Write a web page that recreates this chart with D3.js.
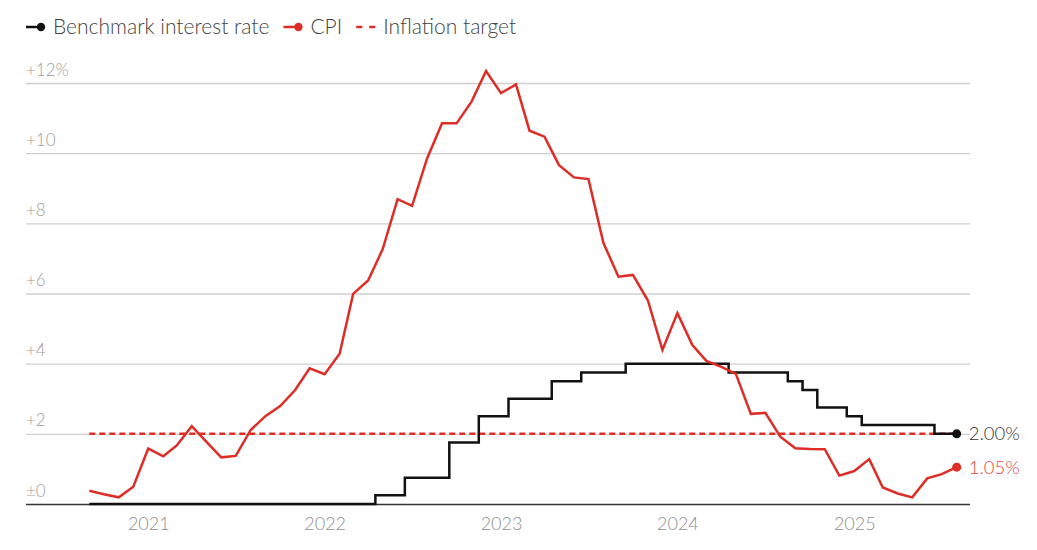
<!DOCTYPE html>
<html>
<head>
<meta charset="utf-8">
<script src="https://cdn.jsdelivr.net/npm/d3@7"></script>
<style>
  body { margin: 0; background: #fff; }
  svg text { font-family: Lato, "Open Sans", sans-serif; font-weight: 300; }
</style>
</head>
<body>
<div class="chart"></div>
<script>
// monthly observations, Sep 2020 - Aug 2025
var months = [
  "2020-09","2020-10","2020-11","2020-12",
  "2021-01","2021-02","2021-03","2021-04","2021-05","2021-06","2021-07","2021-08","2021-09","2021-10","2021-11","2021-12",
  "2022-01","2022-02","2022-03","2022-04","2022-05","2022-06","2022-07","2022-08","2022-09","2022-10","2022-11","2022-12",
  "2023-01","2023-02","2023-03","2023-04","2023-05","2023-06","2023-07","2023-08","2023-09","2023-10","2023-11","2023-12",
  "2024-01","2024-02","2024-03","2024-04","2024-05","2024-06","2024-07","2024-08","2024-09","2024-10","2024-11","2024-12",
  "2025-01","2025-02","2025-03","2025-04","2025-05","2025-06","2025-07","2025-08"
];

var rateValues = [
  0, 0, 0, 0,
  0, 0, 0, 0, 0, 0, 0, 0, 0, 0, 0, 0,
  0, 0, 0, 0, 0.25, 0.25, 0.75, 0.75, 0.75, 1.75, 1.75, 2.5,
  2.5, 3.0, 3.0, 3.0, 3.5, 3.5, 3.75, 3.75, 3.75, 4.0, 4.0, 4.0,
  4.0, 4.0, 4.0, 4.0, 3.75, 3.75, 3.75, 3.75, 3.5, 3.25, 2.75, 2.75,
  2.5, 2.25, 2.25, 2.25, 2.25, 2.25, 2.0, 2.0
];

var cpiValues = [
  0.38, 0.28, 0.19, 0.49,
  1.58, 1.36, 1.67, 2.22, 1.78, 1.33, 1.37, 2.11, 2.51, 2.79, 3.25, 3.87,
  3.70, 4.28, 5.99, 6.37, 7.26, 8.69, 8.50, 9.85, 10.85, 10.85, 11.47, 12.34,
  11.71, 11.96, 10.64, 10.47, 9.66, 9.31, 9.26, 7.44, 6.48, 6.53, 5.80, 4.39,
  5.44, 4.53, 4.08, 3.91, 3.71, 2.57, 2.60, 1.92, 1.59, 1.57, 1.56, 0.81,
  0.94, 1.28, 0.47, 0.30, 0.19, 0.73, 0.85, 1.05
];

var inflationTarget = 2;

var yTickValues = [0, 2, 4, 6, 8, 10, 12];
var yTickLabels = ["\u00b10", "+2", "+4", "+6", "+8", "+10", "+12%"];

var legendItems = [
  { label: "Benchmark interest rate", color: "#111111", kind: "dot" },
  { label: "CPI", color: "#de2d26", kind: "dot" },
  { label: "Inflation target", color: "#de2d26", kind: "dash" }
];

var width = 1037, height = 550;
var red = "#de2d26";

var parseMonth = d3.timeParse("%Y-%m");
var dates = months.map(parseMonth);

var rateData = dates.map(function (d, i) { return { date: d, value: rateValues[i] }; });
var cpiData = dates.map(function (d, i) { return { date: d, value: cpiValues[i] }; });

var x = d3.scaleTime()
          .domain([dates[0], dates[dates.length - 1]])
          .range([89.3, 956.7]);

var y = d3.scaleLinear()
          .domain([0, 12])
          .range([504, 83]);

var svg = d3.select(".chart")
            .append("svg")
            .attr("width", width)
            .attr("height", height);

// gridlines + y labels
var gridLeft = 26, gridRight = 970;
var yAxis = d3.axisRight(y)
              .tickValues(yTickValues)
              .tickSize(gridRight - gridLeft)
              .tickFormat(function (d, i) { return yTickLabels[i]; });

var yG = svg.append("g")
            .attr("transform", "translate(" + gridLeft + ",0)")
            .call(yAxis);
yG.select(".domain").remove();
yG.selectAll(".tick line")
  .attr("stroke", function (d) { return d === 0 ? "#333" : "#cfcfcf"; })
  .attr("stroke-width", function (d) { return d === 0 ? 1.5 : 1.3; });
yG.selectAll(".tick text")
  .attr("x", 0)
  .attr("dy", -8)
  .attr("text-anchor", "start")
  .attr("fill", "#a0a0a0")
  .style("font-size", "17px");

// x axis labels
var xAxis = d3.axisBottom(x)
              .ticks(d3.timeYear.every(1))
              .tickSize(0)
              .tickFormat(d3.timeFormat("%Y"));

var xG = svg.append("g")
            .attr("transform", "translate(0,504)")
            .call(xAxis);
xG.select(".domain").remove();
xG.selectAll(".tick text")
  .attr("y", 13)
  .attr("dy", "0.71em")
  .attr("fill", "#8f8f8f")
  .style("font-size", "18px");

// inflation target
svg.append("line")
   .attr("x1", x(dates[0]))
   .attr("x2", x(dates[dates.length - 1]))
   .attr("y1", y(inflationTarget))
   .attr("y2", y(inflationTarget))
   .attr("stroke", red)
   .attr("stroke-width", 2.5)
   .attr("stroke-dasharray", "6,4");

// rate step line
var rateLine = d3.line()
                 .curve(d3.curveStep)
                 .x(function (d) { return x(d.date); })
                 .y(function (d) { return y(d.value); });

svg.append("path")
   .datum(rateData)
   .attr("d", rateLine)
   .attr("fill", "none")
   .attr("stroke", "#111")
   .attr("stroke-width", 2.5);

// CPI line
var cpiLine = d3.line()
                .x(function (d) { return x(d.date); })
                .y(function (d) { return y(d.value); });

svg.append("path")
   .datum(cpiData)
   .attr("d", cpiLine)
   .attr("fill", "none")
   .attr("stroke", red)
   .attr("stroke-width", 2.5)
   .attr("stroke-linejoin", "miter");

// end dots + labels
var lastRate = rateData[rateData.length - 1];
var lastCpi = cpiData[cpiData.length - 1];

svg.append("circle")
   .attr("cx", x(lastRate.date)).attr("cy", y(lastRate.value))
   .attr("r", 4.5).attr("fill", "#111");
svg.append("text")
   .attr("x", x(lastRate.date) + 12).attr("y", y(lastRate.value))
   .attr("dy", "0.35em")
   .attr("fill", "#333")
   .style("font-size", "18.5px")
   .text(d3.format(".2f")(lastRate.value) + "%");

svg.append("circle")
   .attr("cx", x(lastCpi.date)).attr("cy", y(lastCpi.value))
   .attr("r", 4.5).attr("fill", red);
svg.append("text")
   .attr("x", x(lastCpi.date) + 12).attr("y", y(lastCpi.value))
   .attr("dy", "0.35em")
   .attr("fill", "#e8453c")
   .style("font-size", "18.5px")
   .text(d3.format(".2f")(lastCpi.value) + "%");

// legend
var legend = svg.append("g").attr("transform", "translate(26,27)");
var lx = 0;
legendItems.forEach(function (item) {
  var g = legend.append("g").attr("transform", "translate(" + lx + ",0)");
  if (item.kind === "dot") {
    g.append("line").attr("x1", 0).attr("x2", 15).attr("y1", 0).attr("y2", 0)
     .attr("stroke", item.color).attr("stroke-width", 2.5);
    g.append("circle").attr("cx", 15).attr("cy", 0).attr("r", 4.2).attr("fill", item.color);
  } else {
    g.append("line").attr("x1", 0).attr("x2", 19).attr("y1", 0).attr("y2", 0)
     .attr("stroke", item.color).attr("stroke-width", 2.5)
     .attr("stroke-dasharray", "6,7");
  }
  var t = g.append("text")
           .attr("x", item.kind === "dot" ? 27 : 27)
           .attr("y", 0)
           .attr("dy", "0.35em")
           .attr("fill", "#444")
           .style("font-size", "21px")
           .text(item.label);
  lx += 27 + t.node().getComputedTextLength() + 14;
});
</script>
</body>
</html>
